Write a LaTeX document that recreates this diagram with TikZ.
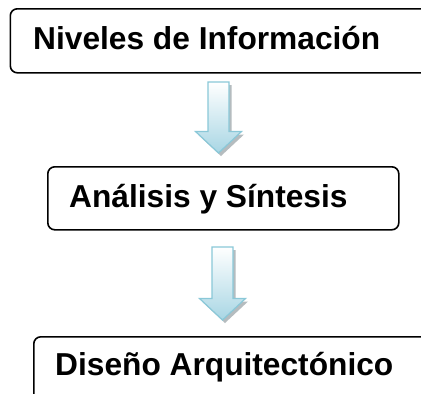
\documentclass[tikz,border=0pt]{standalone}
\usepackage{fontspec}
\setmainfont{Liberation Sans}
\usetikzlibrary{calc}
\definecolor{arrline}{RGB}{138,200,216}
\definecolor{arrfill}{RGB}{168,214,228}
\definecolor{arrshadow}{RGB}{150,160,165}
\tikzset{
  box/.style={draw=black, line width=1.6pt, rounded corners=7pt, anchor=north west,
    minimum height=64pt, inner xsep=0pt, inner ysep=0pt},
  label/.style={anchor=base west, inner sep=0pt, font=\fontsize{31.7}{36}\selectfont\bfseries},
  arrbody/.style={draw=arrline, line width=1.2pt, shading=axis, top color=white, bottom color=arrfill},
  arrshade/.style={fill=arrshadow, opacity=0.7, draw=none}
}
\newcommand{\blockarrow}[2]{%
  \fill[arrshade] ($(#1)+(-7.5,3)$) -- ($(#1)+(13,3)$) -- ($(#2)+(13,-18.5)$) -- ($(#2)+(25.5,-18.5)$)
     -- ($(#2)+(2.5,3)$) -- ($(#2)+(-20.5,-18.5)$) -- ($(#2)+(-7.5,-18.5)$) -- cycle;
  \draw[arrbody] ($(#1)+(-10.5,0)$) -- ($(#1)+(10.5,0)$) -- ($(#2)+(10.5,-21.5)$) -- ($(#2)+(23,-21.5)$)
     -- (#2) -- ($(#2)+(-23,-21.5)$) -- ($(#2)+(-10.5,-21.5)$) -- cycle;
}
\begin{document}
\begin{tikzpicture}[x=1pt,y=-1pt]
  \clip (0,0) rectangle (421,394);
  \fill[white] (0,0) rectangle (421,394);
  % boxes
  \node[box, minimum width=440pt] (n1) at (9.5,8) {};
  \node[label] (t1) at (33,49) {Niveles de Información};
  \node[box, minimum width=351pt, minimum height=63pt] (n2) at (47,166) {};
  \node[label] (t2) at (69,207) {Análisis y Síntesis};
  \node[box, minimum width=420pt, minimum height=70pt] (n3) at (33,336) {};
  \node[label] (t3) at (55,375.5) {Diseño Arquitectónico};
  % arrows
  \coordinate (a1s) at (218.5,82);
  \coordinate (a1e) at (218.5,153);
  \coordinate (a2s) at (222.5,247);
  \coordinate (a2e) at (222.5,320);
  \blockarrow{a1s}{a1e}
  \blockarrow{a2s}{a2e}
\end{tikzpicture}
\end{document}
